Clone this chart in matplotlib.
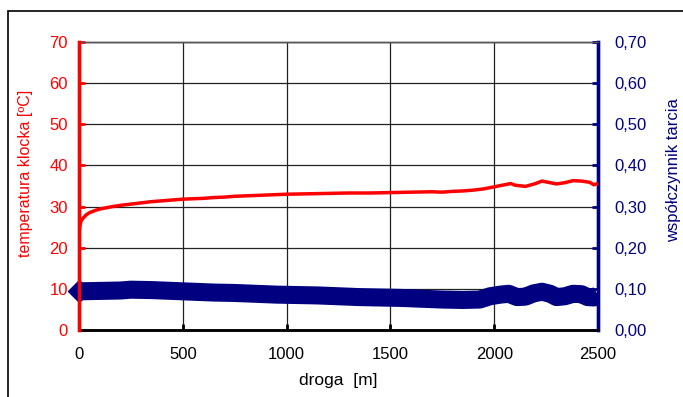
import matplotlib.pyplot as plt
from matplotlib.patches import Rectangle
from matplotlib.ticker import FuncFormatter

plt.rcParams['font.family'] = ['Liberation Sans', 'DejaVu Sans']

# temperatura klocka
droga_t = [0, 5, 10, 20, 35, 50, 75, 100, 150, 200, 250, 300, 350, 400, 450, 500,
           550, 600, 650, 700, 750, 800, 850, 900, 950, 1000, 1100, 1200, 1300, 1400,
           1500, 1600, 1700, 1750, 1800, 1850, 1900, 1950, 2000, 2050, 2080, 2100,
           2150, 2200, 2230, 2260, 2300, 2340, 2380, 2420, 2460, 2480, 2500]
temp = [23.5, 25.5, 26.5, 27.2, 28.0, 28.5, 29.0, 29.4, 29.9, 30.3, 30.6, 30.9, 31.2,
        31.4, 31.6, 31.8, 31.9, 32.0, 32.2, 32.3, 32.5, 32.6, 32.7, 32.8, 32.9, 33.0,
        33.1, 33.2, 33.3, 33.3, 33.4, 33.5, 33.6, 33.5, 33.7, 33.8, 34.0, 34.3, 34.8,
        35.3, 35.6, 35.2, 34.9, 35.6, 36.2, 35.9, 35.5, 35.8, 36.3, 36.2, 35.9, 35.3, 35.6]

# wspolczynnik tarcia
droga_f = [0, 100, 200, 250, 350, 450, 550, 650, 750, 850, 950, 1050, 1150, 1250,
           1350, 1450, 1550, 1650, 1750, 1850, 1930, 1980, 2030, 2070, 2110, 2150,
           2190, 2230, 2270, 2300, 2340, 2380, 2420, 2450, 2480, 2500]
tarcie = [0.094, 0.095, 0.096, 0.098, 0.097, 0.095, 0.093, 0.091, 0.090, 0.088,
          0.086, 0.085, 0.084, 0.082, 0.080, 0.079, 0.078, 0.076, 0.074, 0.073,
          0.074, 0.082, 0.086, 0.088, 0.080, 0.081, 0.089, 0.093, 0.088, 0.080,
          0.082, 0.088, 0.087, 0.080, 0.079, 0.085]

navy = '#000080'

fig = plt.figure(figsize=(6.83, 3.97), dpi=100)
# ramka wykresu
fig.patches.append(Rectangle((8 / 683, -0.1), 1.1, 1 - 11 / 397 + 0.1,
                             transform=fig.transFigure, fill=False,
                             edgecolor='black', linewidth=1.2))

ax = fig.add_axes([79 / 683, 1 - 330 / 397, 519 / 683, 288 / 397])
ax2 = ax.twinx()

ax.set_xlim(0, 2500)
ax.set_ylim(0, 70)
ax2.set_ylim(0, 0.70)

ax.set_xticks(range(0, 2501, 500))
ax.set_yticks(range(0, 71, 10))
ax2.set_yticks([i / 100 for i in range(0, 71, 10)])
ax2.yaxis.set_major_formatter(FuncFormatter(lambda v, p: f"{v:.2f}".replace('.', ',')))

ax.grid(True, color='#222222', linewidth=0.9)
ax.set_axisbelow(True)

ax2.plot(droga_f, tarcie, color=navy, linewidth=13, solid_capstyle='butt', zorder=3)
# znacznik na poczatku serii (wystaje poza os)
ax2.plot(droga_f[:1], tarcie[:1], color=navy, marker='D', markersize=11,
         linestyle='none', clip_on=False, zorder=3)
ax2.plot(droga_t, [v / 100 for v in temp], color='red', linewidth=2.5, zorder=4)

for a in (ax, ax2):
    a.spines['top'].set_color('#555555')
    a.spines['top'].set_linewidth(1.0)
    a.spines['left'].set_color('red')
    a.spines['left'].set_linewidth(2.4)
    a.spines['right'].set_color(navy)
    a.spines['right'].set_linewidth(2.4)
    a.spines['bottom'].set_color('black')
    a.spines['bottom'].set_linewidth(1.8)
    a.spines['left'].set_zorder(5)

ax.tick_params(axis='y', colors='red', direction='in', length=4, width=2,
               labelsize=12, pad=8)
ax.tick_params(axis='x', colors='black', direction='in', length=4, width=2,
               labelsize=12, pad=12)
ax2.tick_params(axis='y', colors=navy, direction='in', length=4, width=2,
                labelsize=12, pad=12)

ax.set_ylabel("temperatura klocka [ºC]", color='red', fontsize=11.5)
ax2.set_ylabel("współczynnik tarcia", color=navy, fontsize=12)
ax.yaxis.set_label_coords(-0.088, 0.543)
ax2.yaxis.set_label_coords(1.131, 0.555)
ax.set_xlabel("droga  [m]", fontsize=12.5, labelpad=8)

fig.savefig("out.png", dpi=100)
